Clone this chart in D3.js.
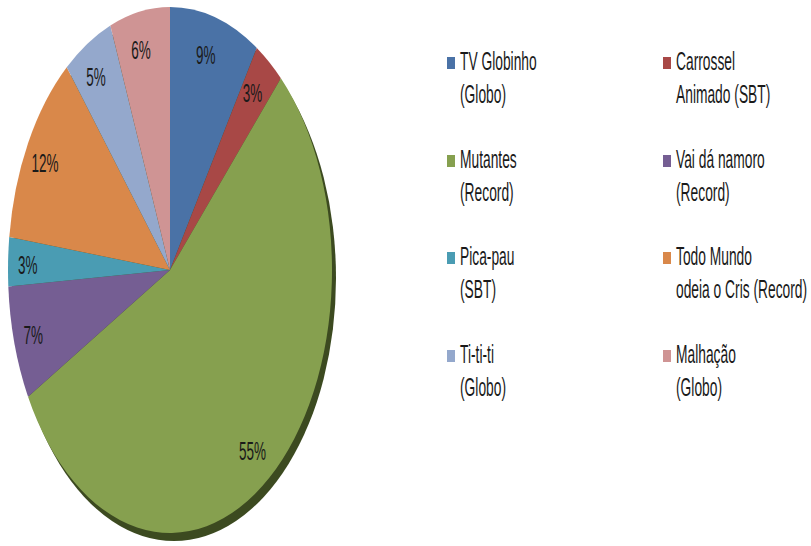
<!DOCTYPE html>
<html>
<head>
<meta charset="utf-8">
<script src="https://cdn.jsdelivr.net/npm/d3@7"></script>
<style>
  body { margin: 0; background: #fff; }
  text { font-family: "Liberation Sans", Arial, sans-serif; fill: #1a1a1a; }
</style>
</head>
<body>
<div id="chart"></div>
<script>
var w = 811;
var h = 546;

// data
var names = [
  ["TV Globinho", "(Globo)"],
  ["Carrossel", "Animado (SBT)"],
  ["Mutantes", "(Record)"],
  ["Vai dá namoro", "(Record)"],
  ["Pica-pau", "(SBT)"],
  ["Todo Mundo", "odeia o Cris (Record)"],
  ["Ti-ti-ti", "(Globo)"],
  ["Malhação", "(Globo)"]
];
var values = [9, 3, 55, 7, 3, 12, 5, 6];
var colors = ["#4a72a6", "#a84846", "#86a04f", "#755e93", "#4a9cb3", "#d9884a", "#94a8cc", "#cf9494"];

var cx = 170, cy = 270;
var r = 162;
var sy = 263 / 162;   // the pie is squashed into an ellipse

const svg = d3.select("#chart")
  .append("svg")
  .attr("width", w)
  .attr("height", h);

var pie = d3.pie().sort(null).value(function(d) { return d; });
var arcs = pie(values);
var arc = d3.arc().innerRadius(0).outerRadius(r);
var labelArc = d3.arc().innerRadius(r * 0.86).outerRadius(r * 0.86);

// dark rim under the pie
svg.append("ellipse")
  .attr("cx", cx + 4)
  .attr("cy", cy + 8)
  .attr("rx", r)
  .attr("ry", r * sy)
  .style("fill", "#3c4a20");

var g = svg.append("g")
  .attr("transform", "translate(" + cx + "," + cy + ") scale(1," + sy + ")");

g.selectAll("path")
  .data(arcs)
  .enter()
  .append("path")
  .attr("d", arc)
  .style("fill", function(d, i) { return colors[i]; });

svg.selectAll("text.pct")
  .data(arcs)
  .enter()
  .append("text")
  .attr("class", "pct")
  .attr("text-anchor", "middle")
  .attr("font-size", 15)
  .attr("transform", function(d) {
    var c = labelArc.centroid(d);
    return "translate(" + (cx + c[0] - 3) + "," + (cy + c[1] * sy + 11) + ") scale(0.9,1.75)";
  })
  .text(function(d) { return d.data + "%"; });

// legend, two columns
var colX = [447, 663];
var rowY = [70, 168, 265, 363];

var items = svg.selectAll("g.leg")
  .data(names)
  .enter()
  .append("g")
  .attr("class", "leg")
  .attr("transform", function(d, i) {
    return "translate(" + colX[i % 2] + "," + rowY[Math.floor(i / 2)] + ")";
  });

items.append("rect")
  .attr("x", 0)
  .attr("y", -13)
  .attr("width", 8)
  .attr("height", 12)
  .style("fill", function(d, i) { return colors[i]; });

items.each(function(d) {
  var sel = d3.select(this);
  d.forEach(function(line, j) {
    sel.append("text")
      .attr("font-size", 15)
      .attr("transform", "translate(13," + (j * 33) + ") scale(0.92,1.7)")
      .text(line);
  });
});
</script>
</body>
</html>
